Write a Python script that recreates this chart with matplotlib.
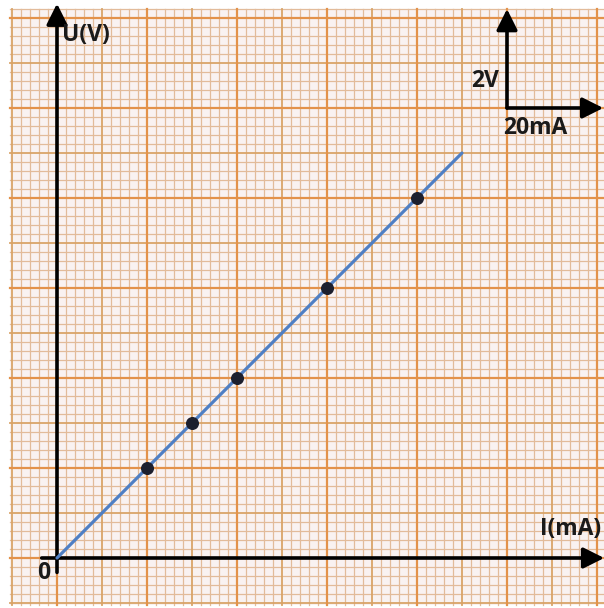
import numpy as np
import matplotlib
matplotlib.use("Agg")
import matplotlib.pyplot as plt
from matplotlib.patches import Rectangle

# ---- data ----
current_mA = [20, 30, 40, 60, 80]
voltage_V = [2, 3, 4, 6, 8]
fit_I = [0, 90]
fit_U = [0, 9]
x_label = "I(mA)"
y_label = "U(V)"
origin_label = "0"
scale_U_label = "2V"
scale_I_label = "20mA"

plt.rcParams['font.family'] = ['Open Sans', 'DejaVu Sans']

fig = plt.figure(figsize=(6.04, 6.08), dpi=100)
ax = fig.add_axes([0, 0, 1, 1])
ax.set_xlim(-57 / 4.5, (604 - 57) / 4.5)
ax.set_ylim(-50 / 45, 558 / 45)
ax.axis('off')

# graph paper
x0, x1 = -10.4, 122.0
y0, y1 = -1.05, 12.2
ax.add_patch(Rectangle((x0, y0), x1 - x0, y1 - y0, facecolor='#f9f2f1', edgecolor='none', zorder=0))

def style(k):
    if k % 20 == 0:
        return '#e3924a', 1.6, 3
    if k % 10 == 0:
        return '#d9a468', 1.3, 2
    return '#e2bb9a', 0.9, 1

for xv in np.arange(-10, 122.1, 2):
    c, lw, z = style(int(round(xv)))
    ax.plot([xv, xv], [y0, y1], color=c, lw=lw, zorder=z)
for yv in np.arange(-1.0, 12.21, 0.2):
    c, lw, z = style(int(round(yv * 10)))
    ax.plot([x0, x1], [yv, yv], color=c, lw=lw, zorder=z)

# axes arrows
arrow_kw = dict(arrowstyle='-|>,head_length=0.7,head_width=0.35', color='black', lw=2.6,
                mutation_scale=18, shrinkA=0, shrinkB=0)
ax.annotate('', xy=(121.6, 0), xytext=(-3.4, 0), arrowprops=arrow_kw, zorder=5)
ax.annotate('', xy=(0, 12.32), xytext=(0, -0.32), arrowprops=arrow_kw, zorder=5)

# scale arrows
ax.annotate('', xy=(121.4, 10), xytext=(100, 10), arrowprops=arrow_kw, zorder=5)
ax.annotate('', xy=(100, 12.2), xytext=(100, 10), arrowprops=arrow_kw, zorder=5)

# fit line and points
ax.plot(fit_I, fit_U, color='#4f7fc4', lw=2.3, zorder=6, solid_capstyle='round')
ax.scatter(current_mA, voltage_V, s=70, color='#1c1f2e', zorder=7)

# labels
tkw = dict(fontsize=16.5, fontweight='bold', color='#1a1a1a', zorder=8)
ax.text(1.2, 11.62, y_label, ha='left', va='center', **tkw)
ax.text(121.0, 0.64, x_label, ha='right', va='center', **tkw)
ax.text(-2.9, -0.33, origin_label, ha='center', va='center', **tkw)
ax.text(98.2, 10.6, scale_U_label, ha='right', va='center', **tkw)
ax.text(106.3, 9.55, scale_I_label, ha='center', va='center', **tkw)

fig.savefig('out.png', dpi=100, facecolor='white')
